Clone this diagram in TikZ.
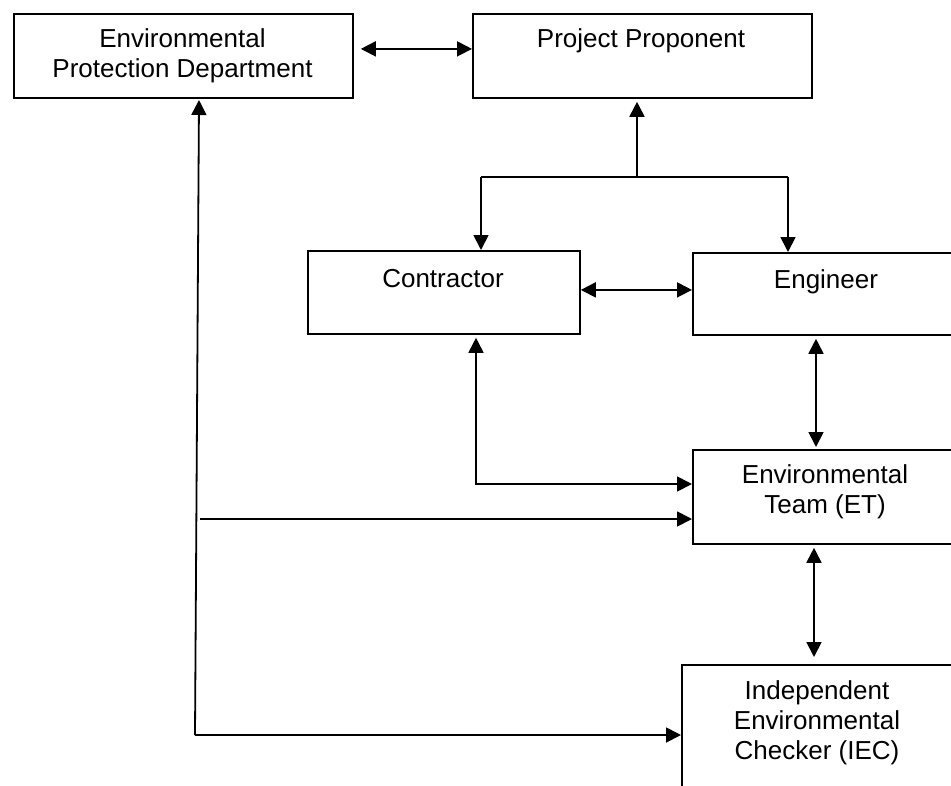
\documentclass[tikz,border=0pt]{standalone}
\usepackage{fontspec}
\setmainfont{Liberation Sans}
\usetikzlibrary{arrows.meta,calc}
\begin{document}
\begin{tikzpicture}[x=1pt,y=-1pt,
  box/.style={draw, line width=1.8pt, rectangle, inner sep=0pt, anchor=north west},
  lbl/.style={align=center, font=\fontsize{26}{30}\selectfont, inner sep=0pt},
  arr/.style={line width=1.8pt, line join=miter, -{Triangle[length=15pt,width=15pt]}},
  biarr/.style={line width=1.8pt, line join=miter, {Triangle[length=15pt,width=15pt]}-{Triangle[length=15pt,width=15pt]}},
  plain/.style={line width=1.8pt}]
\clip (0,0) rectangle (951,785);
\fill[white] (0,0) rectangle (951,785);

% boxes
\node[box, minimum width=339pt, minimum height=84pt] (epd) at (13,13) {};
\node[box, minimum width=339pt, minimum height=84pt] (pp) at (472,13) {};
\node[box, minimum width=272pt, minimum height=83pt] (con) at (307,250) {};
\node[box, minimum width=300pt, minimum height=82pt] (eng) at (692,252) {};
\node[box, minimum width=300pt, minimum height=94pt] (et) at (692,449) {};
\node[box, minimum width=300pt, minimum height=200pt] (iec) at (681,664) {};

% labels
\node[lbl] (epdT) at (182.5,56) {Environmental\\Protection Department};
\node[lbl, anchor=base] (ppT) at (641,47) {Project Proponent};
\node[lbl, anchor=base] (conT) at (443,287) {Contractor};
\node[lbl, anchor=base] (engT) at (826,288) {Engineer};
\node[lbl] (etT) at (825,492) {Environmental\\Team (ET)};
\node[lbl] (iecT) at (817,723) {Independent\\Environmental\\Checker (IEC)};

% helper coordinates
\coordinate (j1) at (637,177);
\coordinate (cx) at (481,177);
\coordinate (ex) at (788,177);
\coordinate (k) at (476,484);
\coordinate (m) at (816,0);
\coordinate (n) at (814,0);
\coordinate (vb) at (195,735);
\coordinate (vt) at (199,100);
\coordinate (h) at (200,519);

% connectors
\draw[biarr] ($(epd.east)+(7,-7)$) -- ($(pp.west)+(0,-7)$);
\draw[arr] (j1) -- ($(j1 |- pp.south)+(0,3)$);
\draw[plain] (cx) -- (ex);
\draw[arr] (cx) -- (cx |- con.north);
\draw[arr] (ex) -- (ex |- eng.north);
\draw[biarr] ($(con.east)+(0,-2.5)$) -- ($(con.east -| eng.west)+(0,-2.5)$);
\draw[biarr] ($(con.south -| k)+(0,3)$) -- (k) -- (k -| et.west);
\draw[biarr] ($(eng.south -| m)+(0,3)$) -- ($(et.north -| m)+(0,-2)$);
\draw[biarr] ($(et.south -| n)+(0,3)$) -- ($(iec.north -| n)+(0,-7)$);
\draw[arr] (vb) -- (vt);
\draw[arr] (vb) -- (vb -| iec.west);
\draw[arr] (h) -- (h -| et.west);
\end{tikzpicture}
\end{document}
